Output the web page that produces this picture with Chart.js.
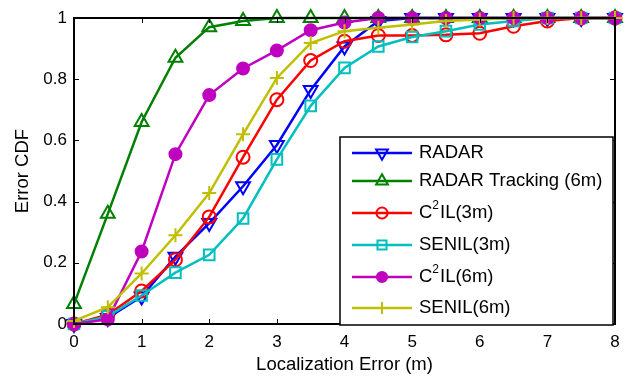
<!DOCTYPE html>
<html>
<head>
<meta charset="utf-8">
<script src="https://cdn.jsdelivr.net/npm/chart.js@4.4.1/dist/chart.umd.min.js"></script>
<style>
  body { margin: 0; background: #fff; }
  #wrap { width: 642px; height: 376px; }
</style>
</head>
<body>
<div id="wrap"><canvas id="cdf" width="642" height="376"></canvas></div>
<script>
// Localization error (m) sample points
const errors = [0, 0.5, 1, 1.5, 2, 2.5, 3, 3.5, 4, 4.5, 5, 5.5, 6, 6.5, 7, 7.5, 8];

// CDF values
const radar = [0, 0.02, 0.09, 0.22, 0.33, 0.45, 0.585, 0.765, 0.907, 0.99, 1, 1, 1, 1, 1, 1, 1];
const radarTracking = [0.065, 0.36, 0.66, 0.87, 0.97, 0.99, 1, 1, 1, 1, 1, 1, 1, 1, 1, 1, 1];
const c2il3 = [0, 0.03, 0.108, 0.21, 0.35, 0.545, 0.733, 0.861, 0.924, 0.943, 0.943, 0.945, 0.95, 0.973, 0.99, 1, 1];
const senil3 = [0, 0.025, 0.093, 0.168, 0.226, 0.345, 0.538, 0.713, 0.837, 0.907, 0.938, 0.957, 0.979, 0.99, 1, 1, 1];
const c2il6 = [0, 0.015, 0.237, 0.555, 0.748, 0.835, 0.894, 0.96, 0.985, 1, 1, 1, 1, 1, 1, 1, 1];
const senil6 = [0.01, 0.055, 0.165, 0.29, 0.428, 0.62, 0.804, 0.918, 0.957, 0.968, 0.979, 0.99, 0.995, 1, 1, 1, 1];

const xTicks = [0, 1, 2, 3, 4, 5, 6, 7, 8];
const yTicks = [0, 0.2, 0.4, 0.6, 0.8, 1];

const FONT = "'Liberation Sans', Arial, Helvetica, sans-serif";

// legend label, with the optional superscript part
const series = [
  { name: ['RADAR'], data: radar, color: '#0000ff', style: 'triangle', rot: 180, r: 8, fill: false },
  { name: ['RADAR Tracking (6m)'], data: radarTracking, color: '#008000', style: 'triangle', rot: 0, r: 8, fill: false },
  { name: ['C', '2', 'IL(3m)'], data: c2il3, color: '#ff0000', style: 'circle', rot: 0, r: 6.5, fill: false },
  { name: ['SENIL(3m)'], data: senil3, color: '#00bfbf', style: 'rect', rot: 0, r: 7.5, fill: false },
  { name: ['C', '2', 'IL(6m)'], data: c2il6, color: '#bf00bf', style: 'circle', rot: 0, r: 6, fill: true },
  { name: ['SENIL(6m)'], data: senil6, color: '#bfbf00', style: 'cross', rot: 0, r: 7, fill: false }
];

const legendRows = [153, 181, 213, 245, 277, 308];

// MATLAB-like box with inward ticks
const boxPlugin = {
  id: 'box',
  afterDatasetsDraw(chart) {
    const { ctx, chartArea: a, scales } = chart;
    ctx.save();
    ctx.strokeStyle = '#000';
    ctx.lineWidth = 1;
    ctx.beginPath();
    xTicks.forEach(v => {
      const px = Math.round(scales.x.getPixelForValue(v)) + 0.5;
      ctx.moveTo(px, a.bottom); ctx.lineTo(px, a.bottom - 5);
      ctx.moveTo(px, a.top); ctx.lineTo(px, a.top + 5);
    });
    yTicks.forEach(v => {
      const py = Math.round(scales.y.getPixelForValue(v)) + 0.5;
      ctx.moveTo(a.left, py); ctx.lineTo(a.left + 5, py);
      ctx.moveTo(a.right, py); ctx.lineTo(a.right - 5, py);
    });
    ctx.stroke();
    ctx.lineWidth = 2;
    ctx.strokeRect(a.left, a.top, a.right - a.left, a.bottom - a.top);
    ctx.restore();
  }
};

const legendPlugin = {
  id: 'boxLegend',
  afterDraw(chart) {
    const ctx = chart.ctx;
    const bx = 340, by = 137, bw = 273, bh = 188;
    ctx.save();
    ctx.fillStyle = '#fff';
    ctx.fillRect(bx, by, bw, bh);
    ctx.strokeStyle = '#000';
    ctx.lineWidth = 1.5;
    ctx.strokeRect(bx, by, bw, bh);
    ctx.textBaseline = 'middle';
    series.forEach((s, i) => {
      const y = legendRows[i];
      ctx.strokeStyle = s.color;
      ctx.fillStyle = s.color;
      ctx.lineWidth = 2.5;
      ctx.beginPath();
      ctx.moveTo(352, y); ctx.lineTo(412, y);
      ctx.stroke();
      ctx.lineWidth = 2;
      ctx.fillStyle = s.fill ? s.color : 'rgba(0,0,0,0)';
      Chart.helpers.drawPoint(ctx, { pointStyle: s.style, rotation: s.rot, radius: s.r * 0.85, borderWidth: 2 }, 382, y);
      ctx.fillStyle = '#000';
      let x = 419;
      s.name.forEach((part, k) => {
        const sup = s.name.length === 3 && k === 1;
        ctx.font = (sup ? '12px ' : '18.5px ') + FONT;
        ctx.fillText(part, x, sup ? y - 7 : y);
        x += ctx.measureText(part).width + (sup ? 1 : 0);
      });
    });
    ctx.restore();
  }
};

const datasets = series.map((s, i) => ({
  label: s.name.join(''),
  data: errors.map((x, j) => ({ x: x, y: s.data[j] })),
  borderColor: s.color,
  backgroundColor: s.fill ? s.color : 'rgba(0,0,0,0)',
  borderWidth: 2.5,
  pointStyle: s.style,
  pointRotation: s.rot,
  pointRadius: s.r,
  pointBorderWidth: 2,
  pointBorderColor: s.color,
  pointBackgroundColor: s.fill ? s.color : 'rgba(0,0,0,0)',
  tension: 0,
  clip: false,
  order: series.length - i
}));

new Chart(document.getElementById('cdf'), {
  type: 'line',
  data: { datasets },
  options: {
    responsive: false,
    animation: false,
    layout: { padding: { left: 0, right: 27, top: 18, bottom: 0 } },
    plugins: { legend: { display: false }, tooltip: { enabled: false } },
    scales: {
      x: {
        type: 'linear',
        min: 0, max: 8,
        afterFit: s => { s.height = 52; },
        afterBuildTicks: s => { s.ticks = xTicks.map(v => ({ value: v })); },
        grid: { display: false, drawTicks: false },
        border: { display: false },
        ticks: { color: '#000', padding: 8, font: { family: FONT, size: 17 } },
        title: {
          display: true, text: 'Localization Error (m)', color: '#000',
          font: { family: FONT, size: 18.5 }, padding: { top: 0, bottom: 0 }
        }
      },
      y: {
        min: 0, max: 1,
        afterFit: s => { s.width = 74; },
        afterBuildTicks: s => { s.ticks = yTicks.map(v => ({ value: v })); },
        grid: { display: false, drawTicks: false },
        border: { display: false },
        ticks: {
          color: '#000', padding: 7, font: { family: FONT, size: 17 },
          callback: v => (v === 0 || v === 1) ? String(v) : v.toFixed(1)
        },
        title: {
          display: true, text: 'Error CDF', color: '#000',
          font: { family: FONT, size: 18.5 }, padding: { top: 12, bottom: 0 }
        }
      }
    }
  },
  plugins: [boxPlugin, legendPlugin]
});
</script>
</body>
</html>
